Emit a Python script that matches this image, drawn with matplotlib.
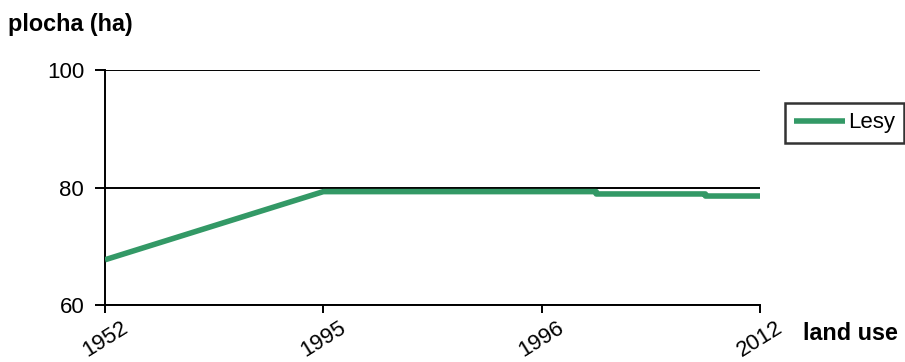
import matplotlib.pyplot as plt

plt.rcParams['font.family'] = ['Liberation Sans', 'DejaVu Sans']

# category labels on the x axis (equally spaced)
years = ['1952', '1995', '1996', '2012']

# forest area series; positions are in category units,
# the later changes show up as small steps between 1996 and 2012
lesy_x = [0, 1, 2, 2.25, 2.25, 2.75, 2.75, 3]
lesy_y = [67.7, 79.3, 79.3, 79.3, 78.9, 78.9, 78.55, 78.55]

fs = 16

fig = plt.figure(figsize=(9.05, 3.62), dpi=100)
ax = fig.add_axes([105 / 905, 1 - 305 / 362, 655 / 905, 235 / 362])

ax.plot(lesy_x, lesy_y, color='#339966', linewidth=4, solid_capstyle='butt',
        label='Lesy', zorder=3)

ax.set_xlim(0, 3)
ax.set_ylim(60, 100)
ax.set_yticks([60, 80, 100])
ax.set_xticks(range(len(years)))
ax.set_xticklabels(years, rotation=32, ha='center')

ax.grid(axis='y', color='black', linewidth=1.4)
for s in ['top', 'right']:
    ax.spines[s].set_visible(False)
for s in ['left', 'bottom']:
    ax.spines[s].set_linewidth(1.4)

ax.tick_params(axis='y', direction='out', length=7, width=1.4, pad=8, labelsize=fs)
ax.tick_params(axis='x', direction='out', length=6, width=1.4, pad=3, labelsize=fs)

fig.text(8 / 905, 1 - 25 / 362, 'plocha (ha)', fontsize=16.8, fontweight='bold',
         ha='left', va='center')
fig.text(803 / 905, 1 - 334 / 362, 'land use', fontsize=16.8, fontweight='bold',
         ha='left', va='center')

leg = ax.legend(loc='upper left', bbox_to_anchor=(785 / 905, 1 - 103 / 362),
                bbox_transform=fig.transFigure, frameon=True, fancybox=False,
                handlelength=2.3, handletextpad=0.1, borderpad=0.42,
                fontsize=fs, borderaxespad=0)
leg.get_frame().set_edgecolor('black')
leg.get_frame().set_linewidth(1.8)

fig.savefig('out.png', dpi=100)
